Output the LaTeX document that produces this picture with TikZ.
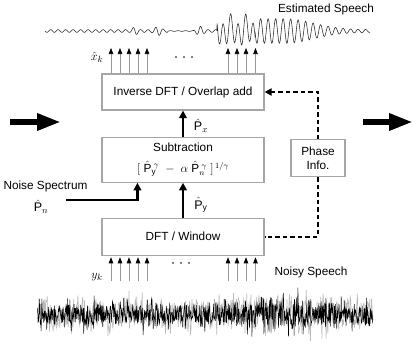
\documentclass[tikz,border=0pt]{standalone}
\usepackage{fontspec}
\setmainfont{Liberation Sans}
\usetikzlibrary{arrows.meta,calc}
\begin{document}
\begin{tikzpicture}[x=1pt,y=-1pt,
  declare function={g(\t,\c,\w)=exp(-min(9,((\t-\c)/\w)*((\t-\c)/\w)));},
  lbl/.style={font=\fontsize{11.8}{14}\selectfont},
  box/.style={draw=gray!70, line width=1.1pt, fill=white, minimum width=162pt,
    inner sep=0pt, align=center, font=\fontsize{11.8}{14}\selectfont},
  phasebox/.style={box, minimum width=54pt, minimum height=37pt},
  thickarrow/.style={line width=2.5pt, -{Triangle[length=7.5pt,width=7.5pt]}},
  bigarrow/.style={line width=6pt, -{Triangle[length=24pt,width=16pt]}},
  inarrow/.style={draw=gray!80, line width=0.6pt, -{Triangle[length=6pt,width=4.5pt,color=black]}},
  dashedconn/.style={line width=1.8pt, dash pattern=on 4.5pt off 3pt},
  math/.style={font=\fontsize{12.5}{14}\selectfont, inner sep=0pt}
]
\useasboundingbox (0,0) rectangle (413,346);

% boxes
\node[box, minimum height=36pt] (inv) at (183,92) {Inverse DFT / Overlap add};
\node[box, minimum height=45pt] (sub) at (183,159.7) {Subtraction\\[7pt]
  $[\;\hat{\mathrm P}_{\mathrm y}^{\;\gamma}\;-\;\alpha\;\hat{\mathrm P}_{n}^{\;\gamma}\;]^{\,1/\gamma}$};
\node[box, minimum height=37pt] (dft) at (183,236.7) {DFT / Window};
\node[phasebox] (phase) at (318,158.3) {Phase\\Info.};

% thick connectors
\draw[thickarrow] (dft.north) -- (sub.south);
\draw[thickarrow] (sub.north) -- (inv.south);
\coordinate (ns) at (66,200);
\draw[thickarrow] (ns) -| ([xshift=36pt]sub.south west);

% dashed connectors
\draw[dashedconn, -{Triangle[length=7pt,width=7pt]}] (phase.north) |- (inv.east);
\draw[dashedconn] (phase.south) |- (dft.east);

% big arrows
\coordinate (la) at (10,122);
\coordinate (lb) at (61,122);
\coordinate (ra) at (363,122);
\coordinate (rb) at (413,122);
\draw[bigarrow] (la) -- (lb);
\draw[bigarrow] (ra) -- (rb);

% small output arrows
\foreach \xx in {111,120,129,138,147,228,237,246,255.5}
  \draw[inarrow] (\xx,0 |- inv.north) -- (\xx,48);
% small input arrows
\foreach \xx in {111,120,129,138,147,228,237,246,255.5}
  \draw[inarrow, shorten >=1.5pt] (\xx,281) -- (\xx,0 |- dft.south);

% dots
\foreach \xx in {176,184,192} \fill (\xx,57) circle (0.9);
\foreach \xx in {173,181,189} \fill (\xx,263) circle (0.9);

% labels
\node[math] (lpx) at (201,126) {$\hat{\mathrm P}_{x}$};
\node[math] (lpy) at (201,205) {$\hat{\mathrm P}_{\mathrm y}$};
\node[math] (lpn) at (41,207) {$\hat{\mathrm P}_{n}$};
\node[math] (lxk) at (97,57) {$\hat{x}_k$};
\node[math] (lyk) at (97,277) {$y_k$};
\node[lbl] (tns) at (45.5,186) {Noise Spectrum};
\node[lbl] (tes) at (326,9) {Estimated Speech};
\node[lbl] (tnoisy) at (311,272) {Noisy Speech};

% estimated speech waveform
\draw[black!85, line width=0.55pt] plot[domain=45:370, samples=1100]
  (\x, {31 + (1.3 - 1.0*(\x>168)*(\x<195)
      + 3*g(\x,135,3) + 3.5*g(\x,158,4) + 3.5*g(\x,200,4)
      + (\x>217)*11*g(max(\x,285),285,40))*sin(48*mod(\x,7.5))
      + (\x>217)*(\x<255)*5*sin(23*mod(\x,15.652))});

% noisy speech waveform
\pgfmathsetseed{7}
\draw[gray!55, line width=0.6pt] plot[domain=37:373, samples=560]
  (\x, {314 + (1+0.35*g(\x,290,40))*(15*rand + 22*rand*abs(rand*rand))});
\draw[black, line width=0.5pt] plot[domain=37:373, samples=900]
  (\x, {314 + (1+0.35*g(\x,290,40))*(10*rand + 18*rand*abs(rand*rand))});
\end{tikzpicture}
\end{document}
